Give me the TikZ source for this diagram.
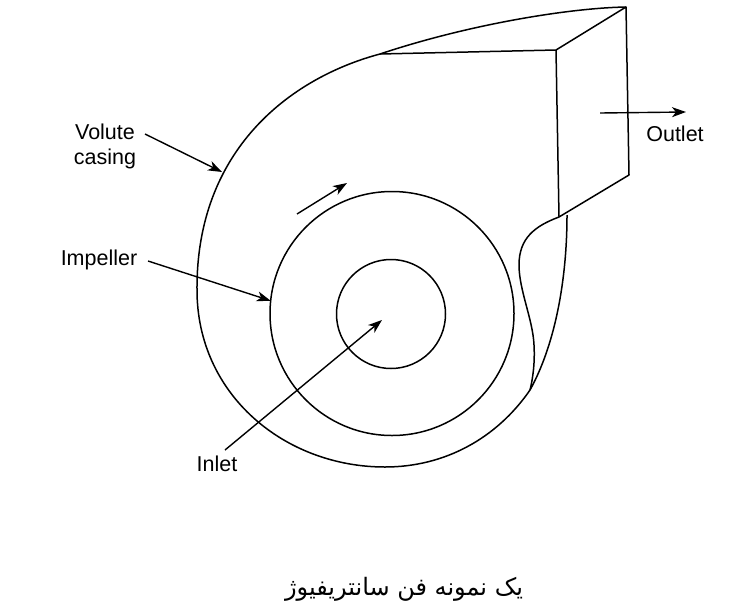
\documentclass[tikz,border=0pt]{standalone}
\usepackage{fontspec}
\setmainfont{Liberation Sans}
\newfontfamily\arabicfont[Script=Arabic]{DejaVu Sans}
\TeXXeTstate=1
\usetikzlibrary{arrows.meta}

\tikzset{
  part/.style = {line width = 1.5pt, line join = round},
  wheel/.style = {circle, draw, line width = 1.5pt, inner sep = 0pt, outer sep = 0pt},
  pointer/.style = {-{Stealth[length = 14pt, width = 10pt, inset = 4pt]}, line width = 1.4pt},
  tag/.style = {font = \fontsize{21.5}{25}\selectfont, inner sep = 0pt, align = center}
}

\begin{document}
\begin{tikzpicture}[x = 1pt, y = -1pt]
  \useasboundingbox (0, 0) rectangle (754, 608);

  % casing
  \coordinate (top) at (626, 7);
  \coordinate (front) at (556, 50);
  \coordinate (lip) at (559, 217);
  \coordinate (mouth) at (629, 175);
  \coordinate (joint) at (380, 54);
  \coordinate (back) at (197, 290);
  \coordinate (bottom) at (385, 467);
  \coordinate (tongue) at (530, 390);
  \coordinate (shell) at (567, 215);
  \coordinate (hit) at (222, 172);

  \draw[part] (top) .. controls (570, 8) and (470, 24) .. (joint)
    .. controls (290, 78) and (196, 150) .. (back)
    .. controls (197, 395) and (285, 467) .. (bottom)
    .. controls (445, 467) and (497, 438) .. (tongue)
    .. controls (555, 345) and (567, 280) .. (shell);
  \draw[part] (joint) -- (front) -- (top) -- (mouth) -- (lip) -- (front);
  \draw[part] (lip) .. controls (535, 226) and (519, 238) .. (519, 265)
    .. controls (519, 290) and (533, 320) .. (534, 345)
    .. controls (535, 362) and (533, 378) .. (tongue);

  % wheels
  \node[wheel, minimum size = 244pt] (impeller) at (392, 313.5) {};
  \node[wheel, minimum size = 109pt] (eye) at (391, 314) {};
  \coordinate (eyemid) at (382, 320);

  % labels
  \node[tag] (volute) at (105, 146) {Volute\\casing};
  \node[tag] (imp) at (99, 260) {Impeller};
  \node[tag] (inlet) at (217, 464) {Inlet};
  \node[tag] (outlet) at (675, 134) {Outlet};
  \node[font = \fontsize{24}{28}\selectfont, inner sep = 0pt] (title) at (404, 589)
    {\arabicfont\beginR یک نمونه فن سانتریفیوژ\endR};

  % arrows
  \coordinate (volstart) at (145, 134);
  \coordinate (impstart) at (148, 261);
  \coordinate (inletstart) at (225, 450);
  \coordinate (outstart) at (600, 113);
  \coordinate (outend) at (686, 112);
  \coordinate (spinstart) at (297, 214);
  \coordinate (spinend) at (347, 183);

  \draw[pointer] (volstart) -- (hit);
  \draw[pointer] (impstart) -- (impeller.174);
  \draw[pointer] (inletstart) -- (eyemid);
  \draw[pointer] (outstart) -- (outend);
  \draw[pointer] (spinstart) -- (spinend);
\end{tikzpicture}
\end{document}
